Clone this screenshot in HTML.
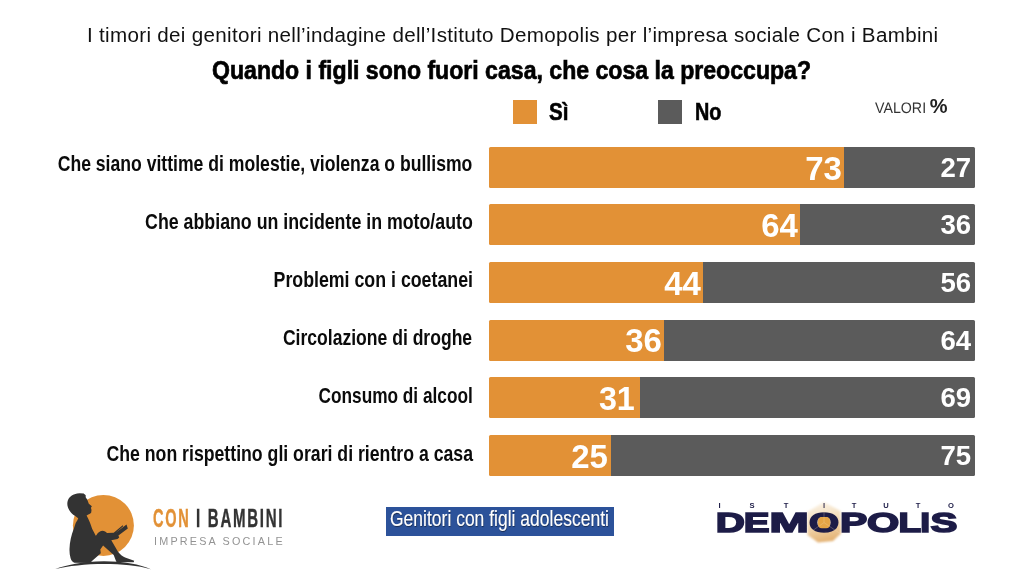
<!DOCTYPE html>
<html lang="it">
<head>
<meta charset="utf-8">
<title>Demopolis - Con i Bambini</title>
<style>
html,body{margin:0;padding:0;background:#fff;}
body{width:1024px;height:576px;position:relative;overflow:hidden;font-family:"Liberation Sans",sans-serif;color:#0a0a0a;}
#wrap{position:absolute;left:0;top:0;width:1024px;height:576px;transform:translateZ(0);}
.t{position:absolute;white-space:nowrap;line-height:1;display:inline-block;}
#title{left:86.5px;top:24.5px;font-size:20px;letter-spacing:0.3px;transform:scaleX(1.030);transform-origin:0 0;color:#111;}
#head{left:212.3px;top:57.3px;font-size:26.6px;font-weight:bold;-webkit-text-stroke:0.7px #000;transform:scaleX(0.868);transform-origin:0 0;color:#000;}
.sq{position:absolute;width:24px;height:24px;top:100px;}
.leg{font-size:23.6px;font-weight:bold;top:101.1px;-webkit-text-stroke:0.6px #000;transform-origin:0 0;color:#000;}
#val{left:874.5px;top:100.1px;font-size:15.2px;color:#333;transform:matrix(0.936,0.0005,0,1,0,0);transform-origin:0 0;}
#pct{left:929.7px;top:96.3px;font-size:20px;font-weight:bold;color:#222;transform-origin:0 0;}
.lab{right:551.5px;font-size:22px;font-weight:bold;transform-origin:100% 0;color:#0b0b0b;}
.bar{position:absolute;left:489px;width:486px;height:40.7px;background:#5b5b5b;border-radius:1.5px;overflow:hidden;}
.n{color:#fff;font-weight:bold;transform-origin:100% 0;}
.ns{font-size:34px;transform:scaleX(0.97);}
.nn{font-size:28px;right:53px;transform:scaleX(0.985);margin-top:-0.6px;}
</style>
</head>
<body>
<div id="wrap">
<span class="t" id="title">I timori dei genitori nell’indagine dell’Istituto Demopolis per l’impresa sociale Con i Bambini</span>
<span class="t" id="head">Quando i figli sono fuori casa, che cosa la preoccupa?</span>

<div class="sq" style="left:513px;background:#e29136"></div>
<span class="t leg" style="left:548.6px;transform:scaleX(0.87)">Sì</span>
<div class="sq" style="left:658px;background:#5b5b5b"></div>
<span class="t leg" style="left:694.5px;transform:scaleX(0.84)">No</span>
<span class="t" id="val">VALORI</span>
<span class="t" id="pct">%</span>

<div class="bar" style="top:147px;background:linear-gradient(90deg,#e29136 355px,#5b5b5b 355px)"></div>
<div class="bar" style="top:204px;background:linear-gradient(90deg,#e29136 311px,#5b5b5b 311px)"></div>
<div class="bar" style="top:262px;background:linear-gradient(90deg,#e29136 214px,#5b5b5b 214px)"></div>
<div class="bar" style="top:320px;background:linear-gradient(90deg,#e29136 175px,#5b5b5b 175px)"></div>
<div class="bar" style="top:377.1px;background:linear-gradient(90deg,#e29136 151px,#5b5b5b 151px)"></div>
<div class="bar" style="top:435px;background:linear-gradient(90deg,#e29136 122px,#5b5b5b 122px)"></div>

<span class="t lab" style="top:153px;transform:scaleX(0.8)">Che siano vittime di molestie, violenza o bullismo</span>
<span class="t lab" style="top:210.9px;transform:scaleX(0.8075)">Che abbiano un incidente in moto/auto</span>
<span class="t lab" style="top:269.1px;transform:scaleX(0.8075)">Problemi con i coetanei</span>
<span class="t lab" style="top:326.8px;transform:scaleX(0.798)">Circolazione di droghe</span>
<span class="t lab" style="top:385.2px;transform:scaleX(0.784)">Consumo di alcool</span>
<span class="t lab" style="top:443.1px;transform:scaleX(0.8038)">Che non rispettino gli orari di rientro a casa</span>

<span class="t n ns" style="top:151px;right:182px">73</span>
<span class="t n ns" style="top:208.2px;right:226px">64</span>
<span class="t n ns" style="top:266.2px;right:323px">44</span>
<span class="t n ns" style="top:323.3px;right:362px">36</span>
<span class="t n ns" style="top:381.1px;right:389px;transform:scaleX(0.95)">31</span>
<span class="t n ns" style="top:439px;right:416.2px">25</span>

<span class="t n nn" style="top:154.5px">27</span>
<span class="t n nn" style="top:211.5px">36</span>
<span class="t n nn" style="top:269.5px">56</span>
<span class="t n nn" style="top:327.5px">64</span>
<span class="t n nn" style="top:384.6px">69</span>
<span class="t n nn" style="top:442.5px">75</span>

<!-- footer: Con i Bambini logo -->
<svg id="cib" width="130" height="91" viewBox="40 485 130 91" style="position:absolute;left:40px;top:485px;overflow:visible">
  <circle cx="103.4" cy="525.4" r="30.5" fill="#e29136"/>
  <path fill="#333333" d="M79.7 493.2 L83.7 493.5 L85.7 495.3 L85.7 497.3 L87.3 499.7 L88.8 503.7 L91.9 506.2 L90.9 507.7 L91.5 509.9 L91.2 512.6 C90.6 513.6 89.8 514 88.8 514.2 L86.6 515.6 L88.1 518.6 C89.5 521.5 91 525 92.1 528.8 L95.8 535.8 L96.5 535.1 C97.5 533 99.8 531 102.2 530.8 C104.5 530.8 106 531.8 107 533.1 L113.7 532.7 L122.7 525.3 L123.2 526.3 L115.4 533 L126.5 524.4 L127.8 528.4 L118.4 535.5 L119.2 537.4 L117.5 538.9 L111.3 540.3 L118 551.8 C120 554.5 122.5 556.2 125.1 557.5 L134.2 560.8 L133.7 562.2 L116.5 562 L115.6 559.9 L113.7 555.1 L103.1 545.6 L100.3 549.4 L100.8 553.2 L91.7 561.3 L90.5 563 L74.4 562.8 C72.4 561.8 71.2 560.2 70.6 558.2 C69.7 555.2 69.4 552.2 69.5 549.1 C69.6 545.5 70 542 70.8 538.4 C71.5 535 72.6 531.8 73.8 528.8 L75.7 523 L77.5 520.1 L78.2 518.2 L74.9 515.7 C72.5 514.4 70.9 512.8 69.8 511 C68.3 508.8 67.4 506.3 67.3 503.7 C67.3 501.2 68.2 499 69.5 497.5 C70.9 495.8 72.6 494.8 74.6 494.2 C76.3 493.6 78 493.3 79.7 493.2 Z"/>
  <path fill="#333333" d="M55.3 569 C66 565.3 82 561.4 104 561.3 C124 561.3 140 564.5 151 569.2 C138 565.6 122 564 104 564 C86 564 68 566 55.3 569 Z"/>
</svg>
<span class="t" id="con" style="left:153.2px;top:505px;font-size:26px;font-weight:bold;letter-spacing:3px;-webkit-text-stroke:0.4px #e29136;transform:scaleX(0.56);transform-origin:0 0;color:#e29136">CON</span>
<span class="t" id="bam" style="left:195.9px;top:505px;font-size:26px;font-weight:bold;letter-spacing:3px;-webkit-text-stroke:0.4px #333;transform:scaleX(0.578);transform-origin:0 0;color:#333">I BAMBINI</span>
<span class="t" id="imp" style="left:154px;top:535.5px;font-size:10.8px;transform-origin:0 0;color:#939393;letter-spacing:2.2px">IMPRESA SOCIALE</span>

<!-- footer: blue tag -->
<div id="tag" style="position:absolute;left:386px;top:507px;width:228px;height:28.5px;background:#2c529a"></div>
<span class="t" id="tagt" style="left:389.6px;top:507.9px;font-size:21.2px;-webkit-text-stroke:0.15px #fff;transform:scaleX(0.826);transform-origin:0 0;color:#fff;text-shadow:0.5px 0.5px 1px rgba(0,0,0,.5)">Genitori con figli adolescenti</span>

<!-- footer: Demopolis logo -->
<svg id="hex" width="60" height="60" viewBox="794 492 60 60" style="position:absolute;left:794px;top:492px">
  <defs>
    <linearGradient id="hg" x1="0.3" y1="0" x2="0.5" y2="1"><stop offset="0" stop-color="#f7e8d0" stop-opacity=".55"/><stop offset=".45" stop-color="#f0d3a8" stop-opacity=".8"/><stop offset="1" stop-color="#e2ad6a" stop-opacity=".95"/></linearGradient>
    <filter id="hb" x="-20%" y="-20%" width="140%" height="140%"><feGaussianBlur stdDeviation="0.9"/></filter>
  </defs>
  <polygon points="824,502 840.5,511 841,533.5 833,541 818,542.5 807.5,535 807,512" fill="url(#hg)" filter="url(#hb)"/>
</svg>
<svg id="ist" width="260" height="12" viewBox="710 498 260 12" style="position:absolute;left:710px;top:498px;overflow:visible">
  <text y="507.6" font-family="Liberation Sans, sans-serif" font-weight="bold" font-size="7.6" fill="#1d1c47" text-anchor="middle" x="719.5 752 786 824 854 886 918 951">ISTITUTO</text>
</svg>
<svg id="dem" width="260" height="30" viewBox="710 508 260 30" style="position:absolute;left:710px;top:508px;overflow:visible">
  <g font-family="Liberation Sans, sans-serif" font-weight="bold" font-size="28.4" fill="#1d1c47" stroke="#1d1c47" stroke-width="1.6" text-anchor="middle"><text transform="translate(730.20,531.7) scale(1.42,1)" x="0" y="0">D</text><text transform="translate(756.60,531.7) scale(1.36,1)" x="0" y="0">E</text><text transform="translate(789.10,531.7) scale(1.66,1)" x="0" y="0">M</text><text transform="translate(824.00,531.7) scale(1.36,1)" x="0" y="0">O</text><text transform="translate(853.60,531.7) scale(1.44,1)" x="0" y="0">P</text><text transform="translate(883.00,531.7) scale(1.46,1)" x="0" y="0">O</text><text transform="translate(909.90,531.7) scale(1.30,1)" x="0" y="0">L</text><text transform="translate(925.20,531.7) scale(1.25,1)" x="0" y="0">I</text><text transform="translate(944.00,531.7) scale(1.42,1)" x="0" y="0">S</text></g>
</svg>
<svg id="hexc" width="40" height="40" viewBox="804 502 40 40" style="position:absolute;left:804px;top:502px">
  <rect x="818.1" y="517" width="11.8" height="11.2" rx="3.6" ry="3.6" fill="#e5a445"/>
  <g stroke="#f3dcb6" stroke-width="0.5" opacity=".55" fill="none"><path d="M824 522.6 L824 503"/><path d="M824 522.6 L808.5 533.5"/><path d="M824 522.6 L840 533.5"/></g>
</svg>
</div>
</body>
</html>
